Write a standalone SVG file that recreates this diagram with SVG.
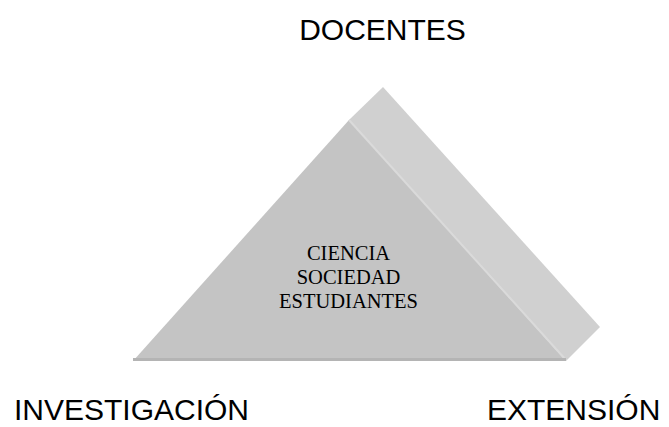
<svg xmlns="http://www.w3.org/2000/svg" width="669" height="427" viewBox="0 0 669 427">
<style>
.lbl{font-family:"Liberation Sans",Arial,sans-serif;font-size:30px;fill:#000}
.in{font-family:"Liberation Serif","Times New Roman",serif;font-size:20.5px;fill:#000;text-anchor:middle}
</style>
<rect width="669" height="427" fill="#fff"/>
<g id="pyramid">
<polygon points="349,120 383,87 600,327 566,361" fill="#d0d0d0"/>
<polygon points="133,361 349,120 566,361" fill="#c4c4c4"/>
<line x1="349" y1="120" x2="566" y2="360" stroke="#dadada" stroke-width="2"/>
<rect x="133" y="358" width="433" height="3" fill="#b4b4b4"/>
<text class="in" x="348.5" y="260">CIENCIA</text>
<text class="in" x="348.5" y="284">SOCIEDAD</text>
<text class="in" x="348.5" y="308">ESTUDIANTES</text>
</g>
<g id="docentes"><text class="lbl" x="382.5" y="40" text-anchor="middle">DOCENTES</text></g>
<g id="investigacion"><text class="lbl" x="14" y="420">INVESTIGACIÓN</text></g>
<g id="extension"><text class="lbl" x="487" y="420">EXTENSIÓN</text></g>
<g id="connectors"></g>
</svg>
